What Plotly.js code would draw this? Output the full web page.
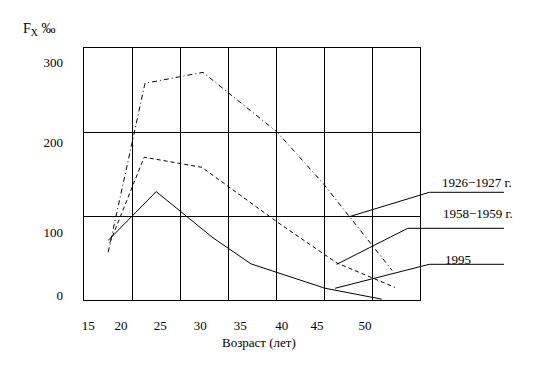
<!DOCTYPE html>
<html>
<head>
<meta charset="utf-8">
<script src="https://cdn.plot.ly/plotly-3.0.1.min.js"></script>
<style>html,body{margin:0;padding:0;background:#fff;}#chart{width:552px;height:372px;}</style>
</head>
<body>
<div id="chart"></div>
<script>
// Series (age in years, fertility rate in ‰)
const ages1926 = [18.4, 23.0, 30.25, 39.5, 45.25, 53.9];
const rate1926 = [57, 258, 271, 200, 139, 35];
const ages1958 = [18.6, 22.9, 30.1, 39.5, 47.0, 54.25];
const rate1958 = [68, 170, 158, 93, 44, 15];
const ages1995 = [18.4, 24.4, 31.5, 36.25, 45.5, 52.6];
const rate1995 = [71, 129, 74, 43, 14, 1];

const seriesNames = ['1926\u22121927 г.', '1958\u22121959 г.', '1995'];

// Tick labels as printed on the reference
const xTickText = ['15', '20', '25', '30', '35', '40', '45', '50'];
const yTickText = ['0', '100', '200', '300'];

// Where the reference printed those labels (layout placement)
const xTickAt = [15.9, 20, 24.9, 29.9, 34.9, 40.1, 44.5, 50.5];
const yTickAt = [6, 80, 188, 283];

const FONT = 'Liberation Serif, Times New Roman, serif';
const line = (dash) => ({color: '#000', width: 1, dash: dash});

const traces = [
  {x: ages1926, y: rate1926, name: seriesNames[0], mode: 'lines', line: line('5px,3px,1px,3px'), hoverinfo: 'skip'},
  {x: ages1958, y: rate1958, name: seriesNames[1], mode: 'lines', line: line('4px,3px'), hoverinfo: 'skip'},
  {x: ages1995, y: rate1995, name: seriesNames[2], mode: 'lines', line: line('solid'), hoverinfo: 'skip'},
  {x: [], y: [], xaxis: 'x2', yaxis: 'y2', mode: 'lines', hoverinfo: 'skip', showlegend: false}
];

const X = px => (px - 84) / 336;
const Y = py => (300 - py) / 252;
const leader = (pts) => ({
  type: 'path', xref: 'paper', yref: 'paper',
  path: pts.map((p, i) => (i ? 'L' : 'M') + X(p[0]) + ',' + Y(p[1])).join(' '),
  line: {color: '#000', width: 1}
});

const layout = {
  width: 552, height: 372,
  margin: {l: 84, r: 132, t: 48, b: 72},
  paper_bgcolor: '#fff', plot_bgcolor: '#fff',
  showlegend: false,
  font: {family: FONT, size: 13, color: '#000'},
  xaxis: {
    range: [15.375, 57.375], showgrid: false, zeroline: false, showline: false,
    tickmode: 'array', tickvals: xTickAt, ticktext: xTickText, ticks: '',
    ticklabelstandoff: 16, tickfont: {family: FONT, size: 13, color: '#000'}
  },
  yaxis: {
    range: [0, 300], showgrid: false, zeroline: false, showline: false,
    tickmode: 'array', tickvals: yTickAt, ticktext: yTickText, ticks: '',
    ticklabelstandoff: 20, tickfont: {family: FONT, size: 13, color: '#000'}
  },
  xaxis2: {
    overlaying: 'x', anchor: 'y2', range: [0, 7], dtick: 1, tick0: 0,
    showgrid: true, gridcolor: '#000', gridwidth: 1, zeroline: false,
    showline: true, linecolor: '#000', linewidth: 1, mirror: true,
    showticklabels: false, ticks: ''
  },
  yaxis2: {
    overlaying: 'y', anchor: 'x2', range: [0, 3], dtick: 1, tick0: 0,
    showgrid: true, gridcolor: '#000', gridwidth: 1, zeroline: false,
    showline: true, linecolor: '#000', linewidth: 1, mirror: true,
    showticklabels: false, ticks: ''
  },
  shapes: [
    leader([[349.3, 216.7], [429.3, 192.3], [504, 192.3]]),
    leader([[336.7, 264.3], [407.7, 228.3], [504, 228.3]]),
    leader([[335, 288.3], [429.3, 264.3], [504, 264.3]])
  ],
  annotations: [
    {text: seriesNames[0], xref: 'paper', yref: 'paper', x: X(477), y: Y(182.5), showarrow: false, xanchor: 'center', yanchor: 'middle', font: {family: FONT, size: 13}},
    {text: seriesNames[1], xref: 'paper', yref: 'paper', x: X(478), y: Y(213.5), showarrow: false, xanchor: 'center', yanchor: 'middle', font: {family: FONT, size: 13}},
    {text: seriesNames[2], xref: 'paper', yref: 'paper', x: X(458), y: Y(259), showarrow: false, xanchor: 'center', yanchor: 'middle', font: {family: FONT, size: 13}},
    {text: 'Возраст (лет)', xref: 'paper', yref: 'paper', x: X(258.5), y: Y(342), showarrow: false, xanchor: 'center', yanchor: 'middle', font: {family: FONT, size: 13}},
    {text: 'F<sub>X</sub> ‰', xref: 'paper', yref: 'paper', x: X(21), y: Y(29), showarrow: false, xanchor: 'left', yanchor: 'middle', font: {family: FONT, size: 14}}
  ]
};

Plotly.newPlot('chart', traces, layout, {staticPlot: true, displayModeBar: false});
</script>
</body>
</html>
